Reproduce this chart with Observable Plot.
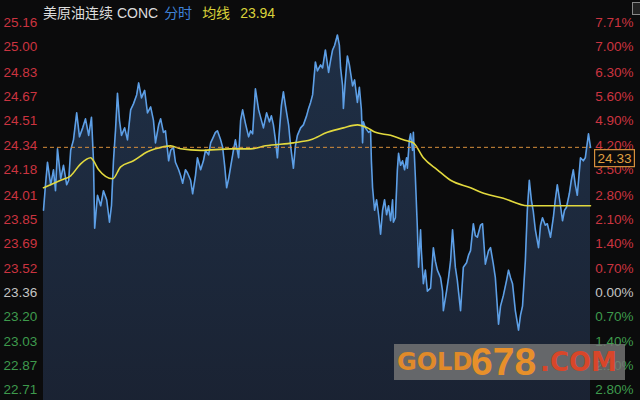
<!DOCTYPE html>
<html><head><meta charset="utf-8">
<script src="https://cdn.jsdelivr.net/npm/d3@7"></script>
<script src="https://cdn.jsdelivr.net/npm/@observablehq/plot@0.6"></script>
<style>
html,body{margin:0;padding:0;background:#0b0b0c;}
#wrap{position:relative;width:640px;height:400px;overflow:hidden;font-family:"Liberation Sans","Noto Sans CJK SC",sans-serif;}
#title{position:absolute;left:43px;top:2px;font-size:14px;white-space:nowrap;color:#dcdcdc;}
#title .b{color:#3f82d6;margin-left:6px;}
#title .y{color:#d9d23a;margin-left:10px;}
#wm{position:absolute;left:394px;top:344px;width:231px;height:36px;background:rgba(120,120,120,0.8);white-space:nowrap;font-family:"DejaVu Sans",sans-serif;font-weight:bold;}
#wm span{position:absolute;}
#icon{position:absolute;left:632px;top:2px;width:7px;height:11px;border:1px solid #888;background:#222;}
</style>
</head><body>
<div id="wrap">
<div id="chart"></div>
<div id="title">美原油连续 CONC<span class="b">分时</span><span class="y">均线</span><span class="y" id="avgv"></span></div>
<div id="wm"><span style="left:3px;bottom:4px;font-size:24px;color:#e08a2a;">GOLD</span><span style="left:77px;bottom:-4px;font-size:39px;color:#e8902a;font-family:'Liberation Sans',sans-serif;font-weight:bold;">678</span><span style="left:146px;bottom:3px;font-size:26px;color:#d8462a;">.COM</span></div>
<div id="icon"></div>
</div>
<script>
// minutes since session open
const minutes = [0,5,10,18,25,30,35,43,50,58,63,68,75,83,90,98,105,113,120,125,128,135,143,150,158,165,170,175,180,185,190,195,203,210,218,225,233,238,245,253,260,268,275,280,288,293,300,305,313,318,325,330,338,343,348,355,360,368,373,380,385,393,400,405,413,418,425,430,435,443,448,453,458,463,468,475,480,488,493,498,505,513,518,523,530,538,543,550,558,565,570,575,580,585,590,595,600,605,613,618,625,630,635,643,650,658,663,668,673,680,685,693,698,705,713,718,723,728,735,740,743,748,750,755,760,765,773,778,785,790,795,798,800,805,813,818,820,823,828,833,838,843,848,853,858,863,868,873,875,880,885,888,893,898,903,908,910,915,918,923,925,930,935,938,943,945,950,955,960,968,975,980,985,993,998,1000,1008,1013,1018,1023,1030,1035,1043,1050,1058,1063,1068,1075,1080,1085,1093,1098,1105,1113,1118,1125,1130,1138,1143,1150,1158,1163,1168,1173,1180,1188,1193,1198,1205,1210,1215,1220,1225,1230,1238,1243,1248,1255,1260,1268,1275,1280,1285,1293,1298,1303,1308,1315,1320,1325,1330,1335,1343,1350,1355,1360,1363,1368];
const prices = [23.91,24.08,24.23,24.08,24.18,24.04,24.32,24.12,24.21,24.08,24.11,24.31,24.38,24.56,24.40,24.46,24.52,24.41,24.53,24.24,23.79,24.01,23.94,24.04,23.98,23.83,23.94,24.24,24.44,24.69,24.51,24.41,24.46,24.38,24.58,24.62,24.68,24.76,24.66,24.71,24.56,24.60,24.51,24.36,24.48,24.52,24.43,24.44,24.24,24.31,24.33,24.23,24.18,24.14,24.09,24.18,24.16,24.11,24.02,24.14,24.26,24.18,24.24,24.31,24.28,24.36,24.40,24.43,24.44,24.38,24.33,24.21,24.06,24.12,24.20,24.31,24.38,24.26,24.51,24.58,24.49,24.40,24.44,24.42,24.72,24.58,24.53,24.46,24.56,24.50,24.54,24.48,24.38,24.26,24.44,24.61,24.70,24.61,24.48,24.34,24.19,24.34,24.41,24.46,24.48,24.54,24.59,24.63,24.68,24.90,24.84,24.88,24.86,24.98,24.83,24.91,24.98,25.01,25.08,25.01,24.86,24.74,24.59,24.78,24.94,24.88,24.74,24.78,24.63,24.73,24.58,24.36,24.50,24.46,24.43,24.44,24.24,24.06,23.91,23.98,23.88,23.75,23.91,23.98,23.88,23.94,23.84,23.98,23.83,23.86,24.18,24.29,24.21,24.24,24.18,24.26,24.19,24.38,24.42,24.31,24.43,24.13,23.79,23.53,23.78,23.64,23.42,23.51,23.37,23.39,23.66,23.57,23.51,23.46,23.37,23.24,23.37,23.46,23.57,23.78,23.53,23.44,23.24,23.53,23.56,23.61,23.64,23.82,23.74,23.73,23.81,23.82,23.55,23.64,23.66,23.55,23.46,23.15,23.27,23.34,23.44,23.51,23.46,23.42,23.24,23.11,23.21,23.27,23.57,23.91,24.11,23.98,23.90,23.78,23.66,23.81,23.86,23.81,23.82,23.73,23.86,23.98,24.08,23.94,23.84,23.91,23.93,24.02,24.11,24.18,24.08,24.01,24.26,24.24,24.26,24.36,24.42,24.33];
const avgMinutes = [0,43,68,93,118,125,138,173,193,225,260,280,318,343,393,468,518,555,625,668,710,750,785,810,830,868,900,925,950,985,1018,1068,1105,1150,1210,1368];
const avgPrices = [24.06,24.11,24.14,24.22,24.26,24.24,24.18,24.12,24.20,24.24,24.30,24.32,24.34,24.32,24.31,24.32,24.32,24.34,24.36,24.38,24.43,24.46,24.48,24.46,24.43,24.41,24.38,24.36,24.26,24.18,24.11,24.06,24.02,23.99,23.94,23.94];
const priceTicks = [25.16,25.00,24.83,24.67,24.51,24.34,24.18,24.01,23.85,23.69,23.52,23.36,23.20,23.03,22.87,22.71];
const pctLabels = ["7.71%","7.00%","6.30%","5.60%","4.90%","4.20%","3.50%","2.80%","2.10%","1.40%","0.70%","0.00%","0.70%","1.40%","2.10%","2.80%"];
const prevClose = 23.36;
const lastPrice = 24.33;
const avgLast = 23.94;
const baseline = 22.55;

const series = minutes.map((m, i) => ({m, p: prices[i]}));
const avgSeries = avgMinutes.map((m, i) => ({m, p: avgPrices[i]}));
const tickRows = priceTicks.map((v, i) => ({v, pct: pctLabels[i]}));
const col = v => v > prevClose ? "#cb3440" : v < prevClose ? "#3e9a4c" : "#c4c4c4";

document.getElementById("avgv").textContent = avgLast.toFixed(2);

const chart = Plot.plot({
  width: 640, height: 400,
  marginLeft: 43, marginRight: 50, marginTop: 22.5, marginBottom: 10.5,
  style: {background: "#0b0b0c", fontFamily: "Liberation Sans, sans-serif"},
  x: {domain: [0, 1368], axis: null},
  y: {domain: [22.71, 25.16], axis: null},
  marks: [
    Plot.areaY(series, {x: "m", y1: baseline, y2: "p", fill: "url(#areaGrad)", curve: "linear"}),
    Plot.line(series, {x: "m", y: "p", stroke: "#5d9fe6", strokeWidth: 1.6}),
    Plot.line(avgSeries, {x: "m", y: "p", stroke: "#e2d93e", strokeWidth: 1.6, curve: "monotone-x"}),
    Plot.ruleY([lastPrice], {stroke: "#d68f3c", strokeWidth: 1, strokeDasharray: "4,3"}),
    Plot.text(tickRows, {y: "v", text: d => d.v.toFixed(2), frameAnchor: "left", dx: -40, textAnchor: "start", fill: d => col(d.v), fontSize: 13.5}),
    Plot.text(tickRows, {y: "v", text: "pct", frameAnchor: "right", dx: 43, textAnchor: "end", fill: d => col(d.v), fontSize: 13.5}),
    Plot.text([lastPrice], {y: d => d, text: d => d.toFixed(2), frameAnchor: "right", dx: 24, dy: 11, textAnchor: "middle", fill: "#e0a040", fontSize: 13.5, className: "lastlbl"})
  ]
});
d3.select(chart).insert("defs", ":first-child").html(
  '<linearGradient id="areaGrad" x1="0" y1="0" x2="0" y2="1">' +
  '<stop offset="0" stop-color="#22354f" stop-opacity="0.85"/>' +
  '<stop offset="1" stop-color="#1a2232" stop-opacity="1"/></linearGradient>');
document.getElementById("chart").appendChild(chart);
// box around the last-price label (same transform as the text)
const t = chart.querySelector(".lastlbl text");
if (t) {
  const bb = t.getBBox();
  d3.select(t.parentNode).insert("rect", "text")
    .attr("transform", t.getAttribute("transform"))
    .attr("x", bb.x - 3).attr("y", bb.y - 1).attr("width", bb.width + 6).attr("height", bb.height + 2)
    .attr("fill", "#0b0b0c").attr("stroke", "#d68f3c").attr("stroke-width", 1.2);
}
</script>
</body></html>
